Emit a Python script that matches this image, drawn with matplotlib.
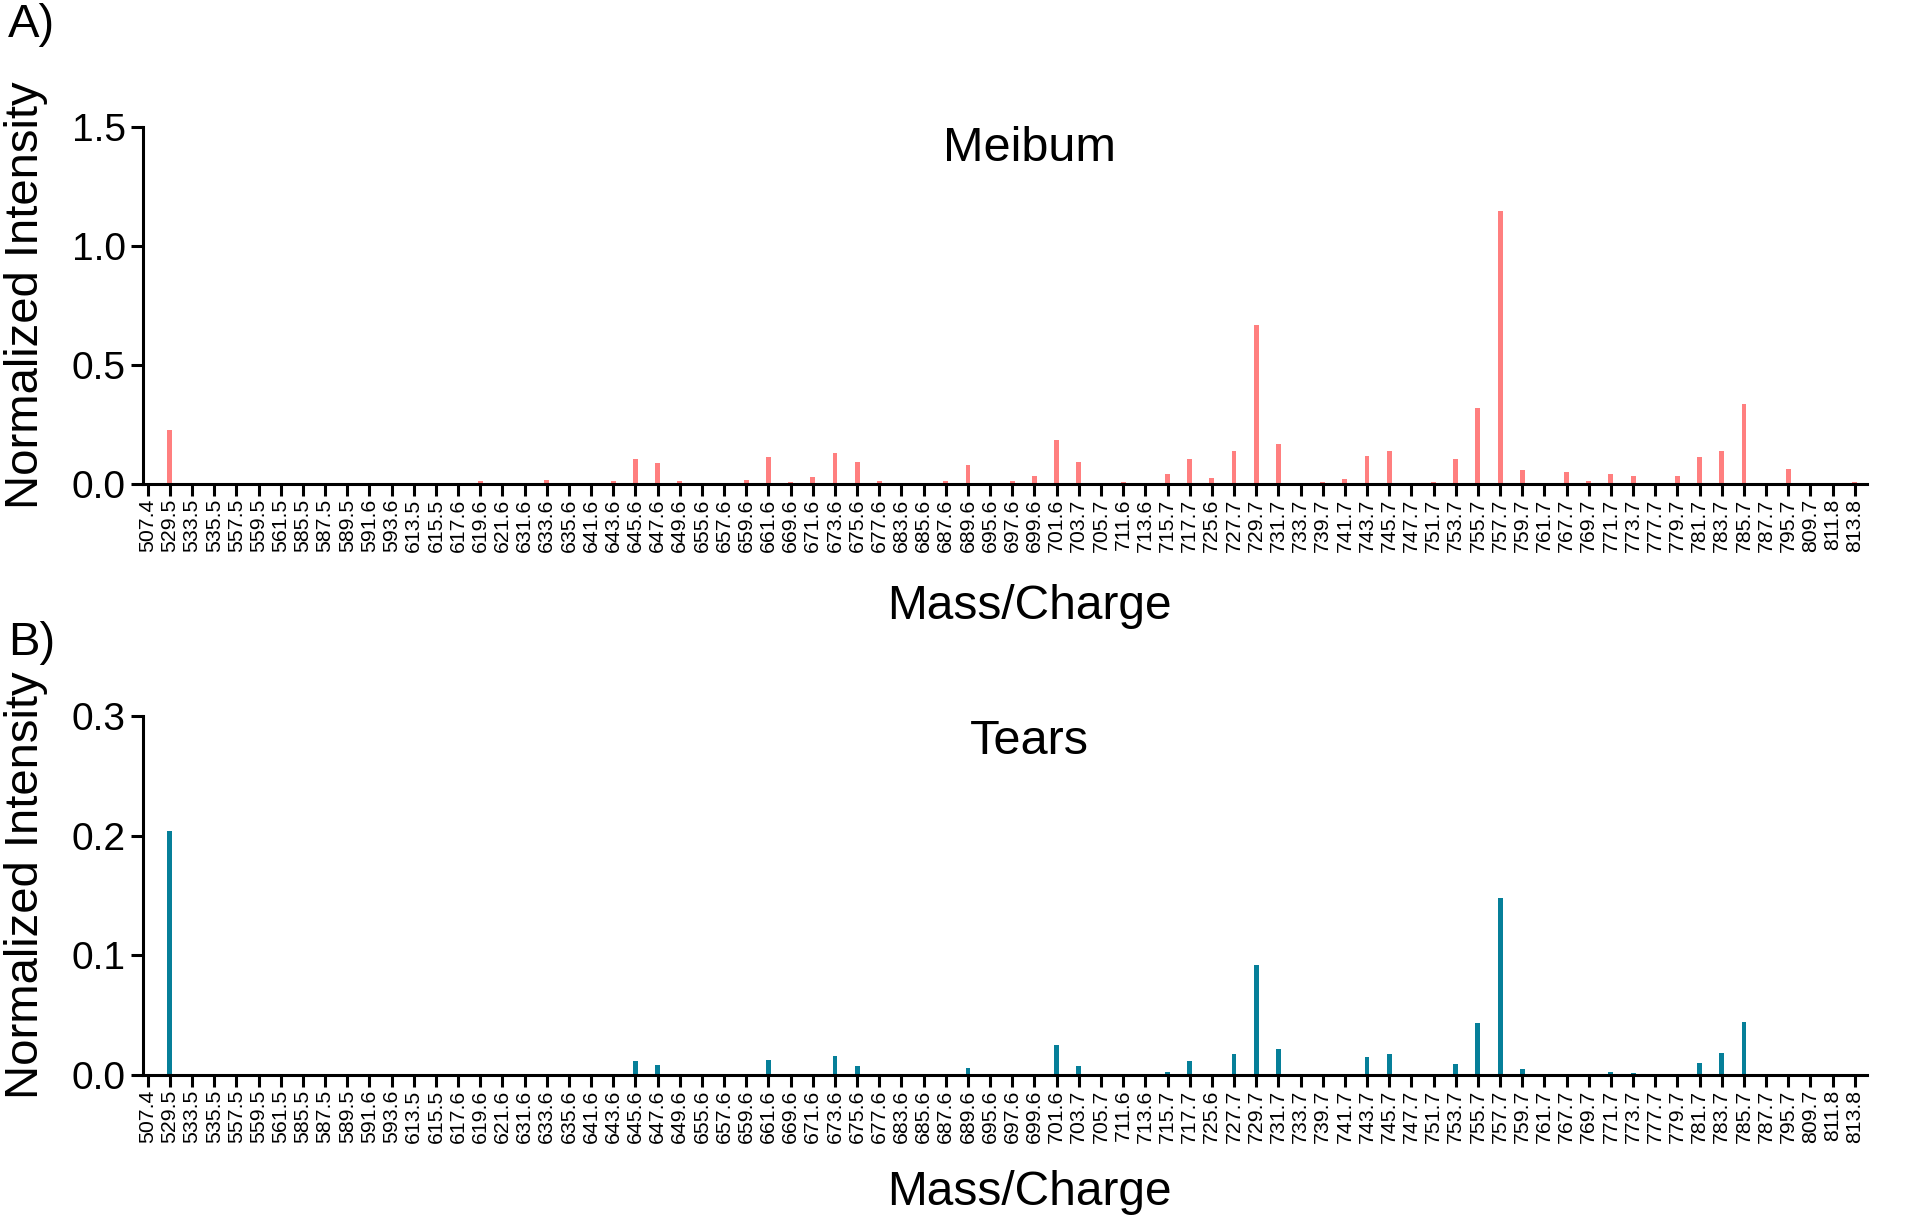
import matplotlib
matplotlib.use("Agg")
import matplotlib.pyplot as plt
import numpy as np

plt.rcParams['font.family'] = ['Liberation Sans', 'DejaVu Sans']

mz_labels = ["507.4", "529.5", "533.5", "535.5", "557.5", "559.5", "561.5", "585.5", "587.5", "589.5",
             "591.6", "593.6", "613.5", "615.5", "617.6", "619.6", "621.6", "631.6", "633.6", "635.6",
             "641.6", "643.6", "645.6", "647.6", "649.6", "655.6", "657.6", "659.6", "661.6", "669.6",
             "671.6", "673.6", "675.6", "677.6", "683.6", "685.6", "687.6", "689.6", "695.6", "697.6",
             "699.6", "701.6", "703.7", "705.7", "711.6", "713.6", "715.7", "717.7", "725.6", "727.7",
             "729.7", "731.7", "733.7", "739.7", "741.7", "743.7", "745.7", "747.7", "751.7", "753.7",
             "755.7", "757.7", "759.7", "761.7", "767.7", "769.7", "771.7", "773.7", "777.7", "779.7",
             "781.7", "783.7", "785.7", "787.7", "795.7", "809.7", "811.8", "813.8"]

meibum = [0, 0.225, 0, 0, 0.005, 0, 0, 0, 0, 0,
          0, 0, 0, 0, 0.003, 0.014, 0, 0, 0.018, 0,
          0, 0.013, 0.106, 0.089, 0.011, 0, 0, 0.017, 0.113, 0.010,
          0.031, 0.131, 0.092, 0.011, 0.006, 0, 0.011, 0.079, 0, 0.011,
          0.032, 0.184, 0.093, 0, 0.007, 0, 0.041, 0.104, 0.027, 0.138,
          0.670, 0.166, 0, 0.010, 0.020, 0.116, 0.137, 0, 0.010, 0.104,
          0.318, 1.147, 0.060, 0, 0.052, 0.014, 0.041, 0.034, 0, 0.034,
          0.113, 0.139, 0.335, 0, 0.062, 0.006, 0, 0.010]

tears = [0, 0.204, 0, 0, 0.0008, 0, 0, 0, 0, 0,
         0, 0, 0, 0, 0, 0, 0, 0, 0, 0,
         0, 0, 0.012, 0.0086, 0.0005, 0, 0, 0, 0.0126, 0,
         0.001, 0.0156, 0.0075, 0, 0, 0, 0, 0.0056, 0, 0,
         0.001, 0.025, 0.0078, 0, 0, 0, 0.0025, 0.0114, 0.0005, 0.0173,
         0.092, 0.022, 0, 0, 0.0006, 0.015, 0.0173, 0, 0, 0.0092,
         0.0435, 0.148, 0.0053, 0, 0.001, 0, 0.0022, 0.0017, 0, 0.0008,
         0.010, 0.0184, 0.044, 0, 0.001, 0, 0, 0]

panels = [
    dict(values=meibum, title="Meibum", color="#FF7F7F", yticks=[0.0, 0.5, 1.0, 1.5],
         ylim=(0, 1.5), rect=[143/1920, 1-484/1224, 1724/1920, 357/1224], tag="A)", tag_y=1-25/1224,
         title_y=0.941, xlabel_y=-0.342, ylabel_y=0.53),
    dict(values=tears, title="Tears", color="#067F99", yticks=[0.0, 0.1, 0.2, 0.3],
         ylim=(0, 0.3), rect=[143/1920, 1-1075/1224, 1724/1920, 359/1224], tag="B)", tag_y=1-643/1224,
         title_y=0.930, xlabel_y=-0.326, ylabel_y=0.53),
]

fig = plt.figure(figsize=(19.2, 12.24), dpi=100)
x = np.arange(len(mz_labels))

for p in panels:
    ax = fig.add_axes(p["rect"])
    ax.bar(x, p["values"], width=0.22, color=p["color"], linewidth=0)
    ax.set_xlim(-0.21, 77.55)
    ax.set_ylim(*p["ylim"])
    ax.set_yticks(p["yticks"])
    ax.set_yticklabels([f"{v:.1f}" for v in p["yticks"]], fontsize=28)
    ax.set_xticks(x)
    ax.set_xticklabels(mz_labels, rotation=90, fontsize=15.3)
    for s in ["top", "right"]:
        ax.spines[s].set_visible(False)
    for s in ["left", "bottom"]:
        ax.spines[s].set_linewidth(2.2)
    ax.tick_params(axis="both", direction="out", length=8.5, width=2.2)
    ax.tick_params(axis="x", pad=2)
    ax.tick_params(axis="y", pad=4)
    ax.text((26-143)/1724, p["ylabel_y"], "Normalized Intensity", transform=ax.transAxes,
            rotation=90, ha="center", va="center", fontsize=34)
    ax.text(0.514, p["xlabel_y"], "Mass/Charge", transform=ax.transAxes,
            ha="center", va="center", fontsize=34.5)
    ax.text(0.514, p["title_y"], p["title"], transform=ax.transAxes, ha="center", va="center", fontsize=35)
    fig.text(0.004, p["tag_y"], p["tag"], ha="left", va="center", fontsize=34)

fig.savefig("out.png", dpi=100, facecolor="white")
